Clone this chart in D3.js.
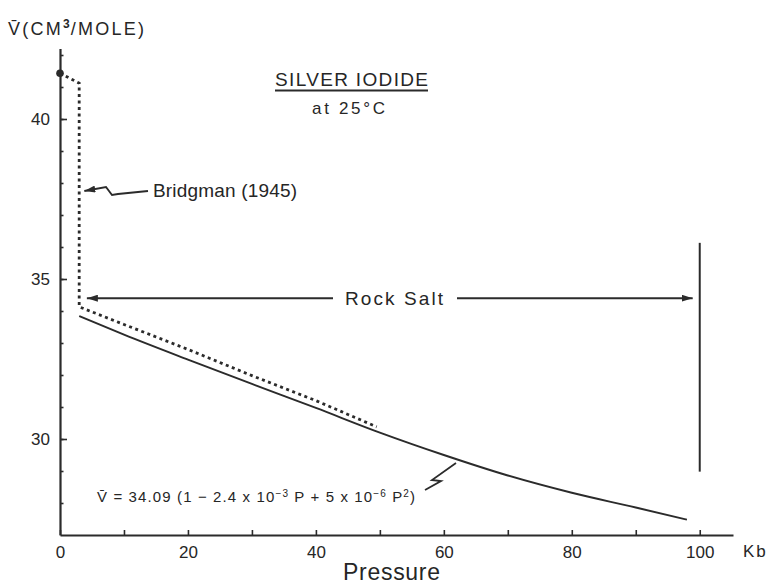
<!DOCTYPE html>
<html>
<head>
<meta charset="utf-8">
<script src="https://cdn.jsdelivr.net/npm/d3@7"></script>
<style>
  body { margin: 0; background: #fff; }
  text { font-family: "Liberation Sans", Arial, sans-serif; fill: #262626; }
  .axis path, .axis line { stroke: #2b2b2b; }
  .axis text { font-family: "Liberation Sans", Arial, sans-serif; fill: #262626; }
</style>
</head>
<body>
<script>
var w = 771;
var h = 585;

// solid curve (fit from the equation)
var fitP = [3, 10, 20, 30, 40, 50, 60, 70, 80, 90, 98];
var fitV = [33.84, 33.26, 32.48, 31.72, 30.97, 30.2, 29.5, 28.86, 28.32, 27.86, 27.48];

// Bridgman (1945) dashed data
var bridgP = [0, 3, 3, 10, 20, 30, 40, 49.5];
var bridgV = [41.43, 41.12, 34.13, 33.58, 32.8, 31.98, 31.2, 30.38];

var xLabelTicks = [0, 20, 40, 60, 80, 100];
var xMinorTicks = [0, 10, 20, 30, 40, 50, 60, 70, 80, 90, 100];
var yLabelTicks = [30, 35, 40];
var yMinorTicks = [28, 29, 30, 31, 32, 33, 34, 35, 36, 37, 38, 39, 40, 41, 42];

// rock salt range and boundary
var rockSaltFrom = 4.2;
var rockSaltTo = 98.9;
var rockSaltV = 34.4;
var boundaryP = 100;
var boundaryV = [36.13, 28.98];

var xScale = d3.scaleLinear()
    .domain([0, 105.2])
    .range([60, 733]);

var yScale = d3.scaleLinear()
    .domain([27, 42.2])
    .range([535, 48.6]);

var svg = d3.select("body")
    .append("svg")
    .attr("width", w)
    .attr("height", h);

var defs = svg.append("defs");
defs.append("marker")
    .attr("id", "head")
    .attr("viewBox", "0 0 11 7")
    .attr("refX", 11)
    .attr("refY", 3.5)
    .attr("markerWidth", 11)
    .attr("markerHeight", 7)
    .attr("markerUnits", "userSpaceOnUse")
    .attr("orient", "auto")
    .append("path")
    .attr("d", "M0,0 L11,3.5 L0,7 Z")
    .attr("fill", "#2b2b2b");

// x axis: ticks pointing up, labels every 20
var xAxis = d3.axisBottom(xScale)
    .tickValues(xMinorTicks)
    .tickSizeInner(-5)
    .tickSizeOuter(0)
    .tickPadding(11)
    .tickFormat(function(d){
        return xLabelTicks.indexOf(d) >= 0 ? d : "";
    });

svg.append("g")
    .attr("class", "axis")
    .attr("transform", "translate(0," + yScale(27) + ")")
    .call(xAxis)
    .call(function(g){
        g.select(".domain").attr("stroke-width", 2.2);
        g.selectAll(".tick line").attr("stroke-width", 1.6);
        g.selectAll(".tick text").attr("font-size", "17px");
    });

// y axis: minor ticks then labelled major ticks
var yMinor = d3.axisLeft(yScale)
    .tickValues(yMinorTicks)
    .tickSizeInner(-3.5)
    .tickSizeOuter(0)
    .tickFormat("");

var yMajor = d3.axisLeft(yScale)
    .tickValues(yLabelTicks)
    .tickSizeInner(-7)
    .tickSizeOuter(0)
    .tickPadding(10);

svg.append("g")
    .attr("class", "axis")
    .attr("transform", "translate(" + xScale(0) + ",0)")
    .call(yMinor)
    .call(function(g){
        g.select(".domain").attr("stroke-width", 2.2);
        g.selectAll(".tick line").attr("stroke-width", 1.6);
    });

svg.append("g")
    .attr("class", "axis")
    .attr("transform", "translate(" + xScale(0) + ",0)")
    .call(yMajor)
    .call(function(g){
        g.select(".domain").remove();
        g.selectAll(".tick line").attr("stroke-width", 1.6);
        g.selectAll(".tick text").attr("font-size", "17px");
    });

// curves
var fitLine = d3.line()
    .x(function(d, i){ return xScale(fitP[i]); })
    .y(function(d, i){ return yScale(fitV[i]); })
    .curve(d3.curveMonotoneX);

svg.append("path")
    .attr("d", fitLine(fitV))
    .attr("fill", "none")
    .attr("stroke", "#2b2b2b")
    .attr("stroke-width", 1.9);

var bridgLine = d3.line()
    .x(function(d, i){ return xScale(bridgP[i]); })
    .y(function(d, i){ return yScale(bridgV[i]); });

svg.append("path")
    .attr("d", bridgLine(bridgV))
    .attr("fill", "none")
    .attr("stroke", "#2b2b2b")
    .attr("stroke-width", 2.8)
    .attr("stroke-dasharray", "3,3.5");

svg.append("circle")
    .attr("cx", xScale(bridgP[0]))
    .attr("cy", yScale(bridgV[0]))
    .attr("r", 3.8)
    .attr("fill", "#2b2b2b");

// phase boundary at 100 kb
svg.append("line")
    .attr("x1", xScale(boundaryP))
    .attr("x2", xScale(boundaryP))
    .attr("y1", yScale(boundaryV[0]))
    .attr("y2", yScale(boundaryV[1]))
    .attr("stroke", "#2b2b2b")
    .attr("stroke-width", 2);

// Rock Salt arrows
var rsY = yScale(rockSaltV);
svg.append("line")
    .attr("x1", 333).attr("y1", rsY)
    .attr("x2", xScale(rockSaltFrom)).attr("y2", rsY)
    .attr("stroke", "#2b2b2b").attr("stroke-width", 1.9)
    .attr("marker-end", "url(#head)");
svg.append("line")
    .attr("x1", 457).attr("y1", rsY)
    .attr("x2", xScale(rockSaltTo)).attr("y2", rsY)
    .attr("stroke", "#2b2b2b").attr("stroke-width", 1.9)
    .attr("marker-end", "url(#head)");
svg.append("text")
    .attr("x", 345).attr("y", rsY + 7)
    .attr("font-size", "19px")
    .attr("textLength", 98)
    .attr("lengthAdjust", "spacing")
    .text("Rock  Salt");

// Bridgman label with squiggle arrow
var bx = xScale(3.8), by = yScale(37.75);
svg.append("path")
    .attr("d", "M148," + by + " L118," + (by + 3) + " L112," + (by + 4) +
               " L106," + (by - 4) + " L" + bx + "," + by)
    .attr("fill", "none")
    .attr("stroke", "#2b2b2b")
    .attr("stroke-width", 1.9)
    .attr("marker-end", "url(#head)");
svg.append("text")
    .attr("x", 153).attr("y", 197)
    .attr("font-size", "19px")
    .attr("textLength", 144)
    .attr("lengthAdjust", "spacing")
    .text("Bridgman (1945)");

// title
svg.append("text")
    .attr("x", 275).attr("y", 86)
    .attr("font-size", "19px")
    .attr("textLength", 153)
    .attr("lengthAdjust", "spacing")
    .text("SILVER  IODIDE");
svg.append("line")
    .attr("x1", 275).attr("x2", 428)
    .attr("y1", 90.5).attr("y2", 90.5)
    .attr("stroke", "#2b2b2b").attr("stroke-width", 2);
svg.append("text")
    .attr("x", 312).attr("y", 114)
    .attr("font-size", "17px")
    .attr("textLength", 73)
    .attr("lengthAdjust", "spacing")
    .text("at 25°C");

// equation
var eq = svg.append("text")
    .attr("x", 97).attr("y", 502)
    .attr("font-size", "15px")
    .attr("textLength", 318)
    .attr("lengthAdjust", "spacing");
eq.append("tspan").text("V\u0304 = 34.09 (1 \u2212 2.4 x 10");
eq.append("tspan").attr("dy", -5).attr("font-size", "10px").text("\u22123");
eq.append("tspan").attr("dy", 5).text(" P + 5 x 10");
eq.append("tspan").attr("dy", -5).attr("font-size", "10px").text("\u22126");
eq.append("tspan").attr("dy", 5).text(" P");
eq.append("tspan").attr("dy", -5).attr("font-size", "10px").text("2");
eq.append("tspan").attr("dy", 5).text(")");

svg.append("path")
    .attr("d", "M425,490 L441,481 L432,480 L456,463")
    .attr("fill", "none")
    .attr("stroke", "#2b2b2b")
    .attr("stroke-width", 1.8);

// axis titles
var yt = svg.append("text")
    .attr("x", 8).attr("y", 35)
    .attr("font-size", "18px")
    .attr("textLength", 136)
    .attr("lengthAdjust", "spacing");
yt.append("tspan").text("V\u0304(CM");
yt.append("tspan").attr("dy", -7).attr("font-size", "12px").attr("font-weight", "bold").text("3");
yt.append("tspan").attr("dy", 7).attr("dx", -1).text("/MOLE)");

svg.append("text")
    .attr("x", 743).attr("y", 557)
    .attr("font-size", "17px")
    .attr("letter-spacing", "2px")
    .text("Kb");

svg.append("text")
    .attr("x", 343).attr("y", 580)
    .attr("font-size", "23px")
    .attr("textLength", 97)
    .attr("lengthAdjust", "spacing")
    .text("Pressure");
</script>
</body>
</html>
